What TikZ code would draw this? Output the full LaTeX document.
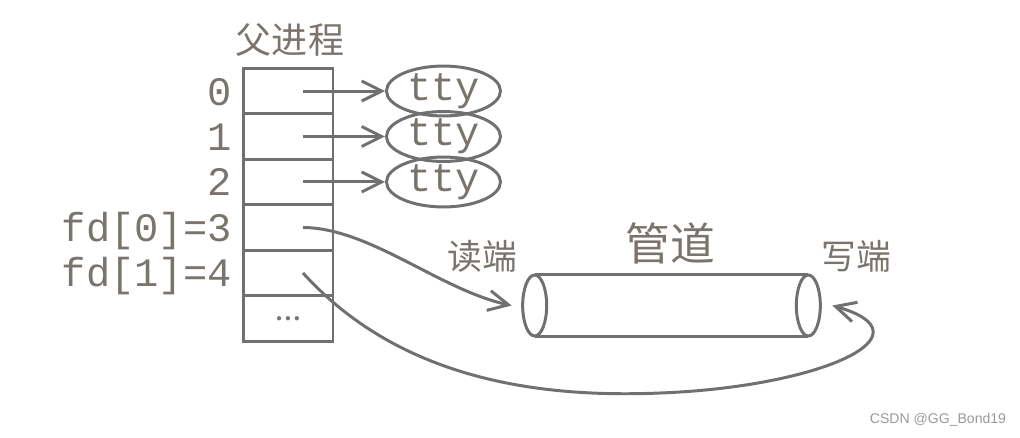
\documentclass[tikz,border=0pt]{standalone}
\usepackage{fontspec}
\setmainfont{Liberation Serif}
\setmonofont{Liberation Mono}
\newfontfamily\cjk{Noto Sans CJK SC}
\newfontfamily\wmfont{Liberation Sans}
\usetikzlibrary{positioning,shapes.geometric,arrows.meta}
\definecolor{linegray}{RGB}{112,112,112}
\definecolor{textgray}{RGB}{122,116,110}

\begin{document}
\begin{tikzpicture}[x=0.02cm, y=-0.02cm,
        cell/.style={draw=linegray, line width=1.7pt, minimum width=1.8cm, minimum height=0.91cm, inner sep=0pt, outer sep=0pt},
        idx/.style={text=textgray, font=\ttfamily\fontsize{23}{26}\selectfont, inner sep=0pt, anchor=base east},
        tty/.style={ellipse, draw=linegray, line width=1.7pt, minimum width=2.28cm, minimum height=0.86cm, inner sep=0pt, text=textgray, font=\ttfamily\fontsize{23}{26}\selectfont},
        ptr/.style={draw=linegray, line width=1.7pt, -{Straight Barb[length=0.4cm,width=0.4cm]}},
        cn/.style={text=textgray, inner sep=0pt}
    ]
    \useasboundingbox (0,0) rectangle (1020,437);

    % fd table of the parent process
    \node[cn, font=\cjk\fontsize{20.5}{24}\selectfont] (parent) at (290,40) {父进程};
    \node[cell] (c0) at (288,91) {};
    \foreach \i [remember=\i as \j (initially 0)] in {1,...,5}
        \node[cell, below=0pt of c\j] (c\i) {};
    \node[cn, font=\bfseries\fontsize{15}{17}\selectfont] (more) at (c5.center) {\dots};

    % indices
    \foreach \i/\t in {0/0, 1/1, 2/2, 3/{fd[0]=3}, 4/{fd[1]=4}}
        \node[idx] (l\i) at ([xshift=-0.22cm, yshift=-0.28cm]c\i.west) {\t};

    % terminals
    \foreach \i in {0,1,2} {
        \node[tty, right=1.04cm of c\i] (t\i) {tty};
        \draw[ptr] ([xshift=0.3cm]c\i.center) -- (t\i.west);
    }

    % pipe
    \node[minimum width=5.46cm, minimum height=1.22cm, inner sep=0pt] (pipe) at (671.5,305.5) {};
    \draw[linegray, line width=1.7pt] (pipe.north west) -- (pipe.north east)
        (pipe.south west) -- (pipe.south east);
    \draw[linegray, line width=1.7pt] (pipe.west) ellipse [x radius=0.24cm, y radius=0.61cm];
    \draw[linegray, line width=1.7pt] (pipe.east) ellipse [x radius=0.24cm, y radius=0.61cm];
    \node[cn, font=\cjk\fontsize{25.5}{28}\selectfont] (pname) at (670,243) {管道};
    \node[cn, font=\cjk\fontsize{19.8}{22}\selectfont] (rend) at (482,256) {读端};
    \node[cn, font=\cjk\fontsize{19.8}{22}\selectfont] (wend) at (856,256) {写端};

    % fd[0] -> read end, fd[1] -> write end
    \draw[ptr] ([xshift=0.3cm]c3.center) .. controls (370,228) and (440,290) .. ([xshift=-0.46cm]pipe.west);
    \draw[ptr] ([xshift=0.3cm]c4.center) .. controls (400,380) and (540,398) .. (660,393)
        .. controls (820,387) and (935,335) .. ([xshift=0.48cm]pipe.east);

    \node[text=gray!80, font=\wmfont\fontsize{8}{9}\selectfont] (mark) at (938,420) {CSDN @GG\_Bond19};

\end{tikzpicture}
\end{document}
